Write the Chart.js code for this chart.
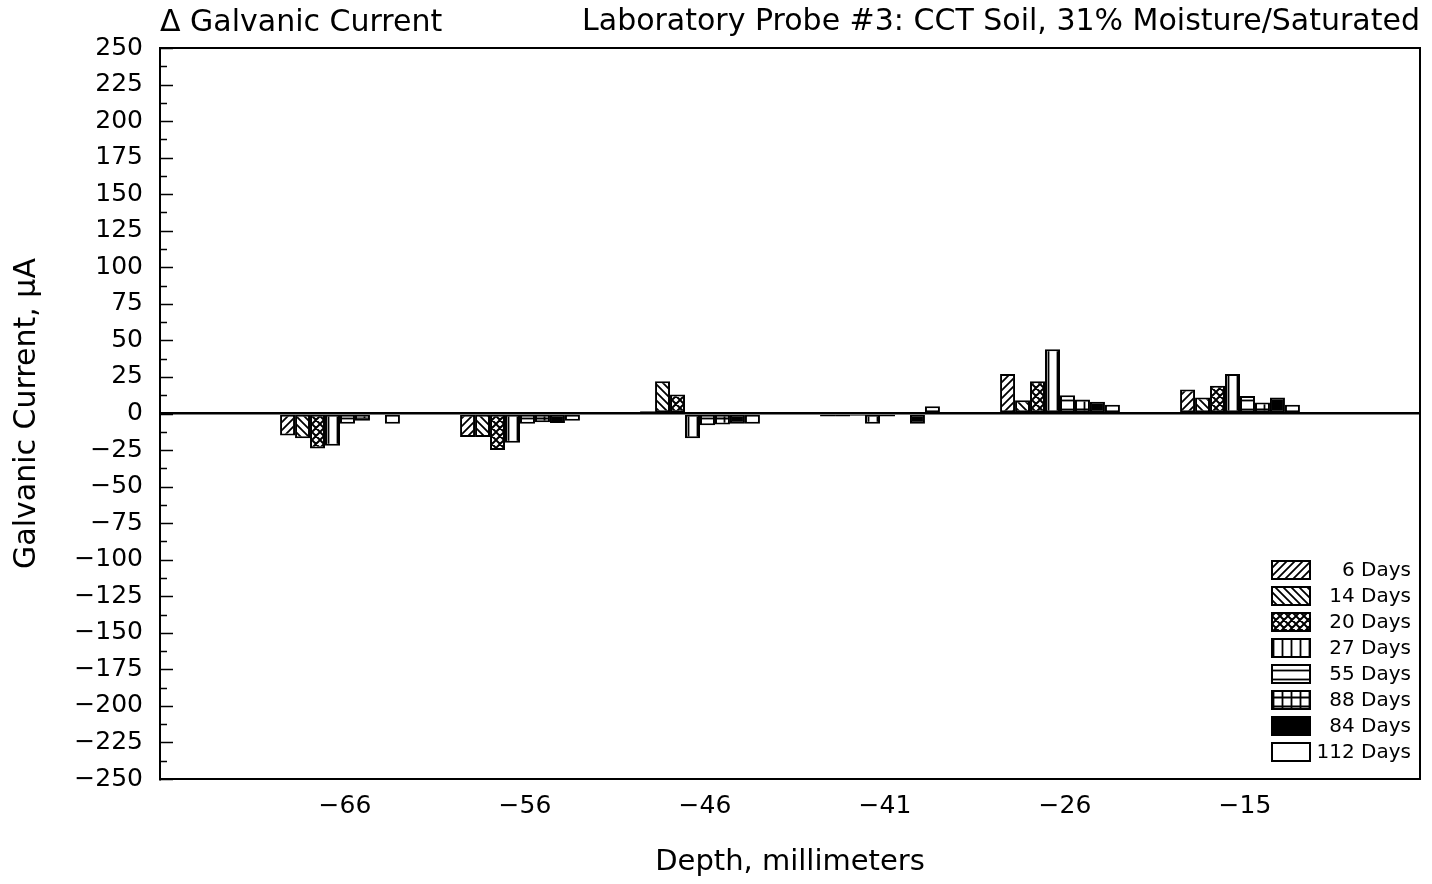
<!DOCTYPE html>
<html><head><meta charset="utf-8">
<script src="https://cdn.jsdelivr.net/npm/chart.js@4/dist/chart.umd.min.js"></script>
<style>html,body{margin:0;padding:0;background:#fff;} #wrap{width:1432px;height:884px;position:relative;}</style>
</head><body><div id="wrap"><canvas id="c"></canvas></div>
<script>
const categories = ['-66', '-56', '-46', '-41', '-26', '-15'];
const seriesNames = ['6 Days', '14 Days', '20 Days', '27 Days', '55 Days', '88 Days', '84 Days', '112 Days'];
const days6   = [-15, -16,  1.5, -2,   27,   16.5];
const days14  = [-17, -16,  22,  -2,    9,   11];
const days20  = [-24, -25,  13,  -1.5, 22,   19];
const days27  = [-22, -20, -17,  -7,   44,   27];
const days55  = [-7,  -7,  -8,   -2,   12.5, 12];
const days88  = [-5,  -6,  -7.5,  0.5,  9.5,  7.5];
const days84  = [-1,  -6.5, -7,  -7,    8,   11];
const days112 = [-7,  -5,  -7,    5,    6,    6];
const yMin = -250, yMax = 250, yStep = 25;
const titleLeft = '\u0394 Galvanic Current';
const titleRight = 'Laboratory Probe #3: CCT Soil, 31% Moisture/Saturated';
const xTitle = 'Depth, millimeters';
const yTitle = 'Galvanic Current, \u03BCA';

const FONT = "'DejaVu Sans', sans-serif";
const seriesValues = [days6, days14, days20, days27, days55, days88, days84, days112];
const patternKinds = ['diag', 'back', 'cross', 'vert', 'horiz', 'grid', 'solid', 'empty'];

function makePattern(kind) {
  if (kind === 'solid') return '#000';
  if (kind === 'empty') return '#fff';
  const s = (kind === 'diag' || kind === 'back' || kind === 'cross') ? 8 : 9;
  const c = document.createElement('canvas');
  c.width = s; c.height = s;
  const g = c.getContext('2d');
  g.fillStyle = '#fff'; g.fillRect(0, 0, s, s);
  g.strokeStyle = '#000'; g.lineWidth = 1.8;
  g.beginPath();
  const slash = () => { g.moveTo(-s, s * 2); g.lineTo(s * 2, -s); g.moveTo(-s, s); g.lineTo(s, -s); g.moveTo(0, s * 2); g.lineTo(s * 2, 0); };
  const back = () => { g.moveTo(-s, -s); g.lineTo(s * 2, s * 2); g.moveTo(-s, 0); g.lineTo(s, s * 2); g.moveTo(0, -s); g.lineTo(s * 2, s); };
  if (kind === 'diag') slash();
  if (kind === 'back') back();
  if (kind === 'cross') { g.lineWidth = 2; slash(); back(); }
  if (kind === 'vert' || kind === 'grid') { g.moveTo(s / 2, 0); g.lineTo(s / 2, s); }
  if (kind === 'horiz' || kind === 'grid') { g.moveTo(0, s / 2); g.lineTo(s, s / 2); }
  g.stroke();
  return document.getElementById('c').getContext('2d').createPattern(c, 'repeat');
}

const labels = ['', ...categories, ''];
const datasets = seriesNames.map((name, i) => ({
  label: name,
  data: [null, ...seriesValues[i], null],
  backgroundColor: makePattern(patternKinds[i]),
  borderColor: '#000',
  borderWidth: 2,
  borderSkipped: false
}));

const framePlugin = {
  id: 'frame',
  afterDraw(chart) {
    const {ctx, chartArea: a} = chart;
    const y = chart.scales.y;
    ctx.save();
    ctx.strokeStyle = '#000';
    ctx.lineWidth = 2;
    ctx.strokeRect(a.left, a.top, a.right - a.left, a.bottom - a.top);
    ctx.lineWidth = 1.5;
    ctx.beginPath();
    for (let v = yMin; v <= yMax + 0.001; v += yStep / 2) {
      const py = Math.round(y.getPixelForValue(v)) + 0.5;
      const major = Math.abs(v % yStep) < 0.001;
      ctx.moveTo(a.left, py);
      ctx.lineTo(a.left + (major ? 13 : 7), py);
    }
    ctx.stroke();
    ctx.fillStyle = '#000';
    ctx.font = '30px ' + FONT;
    ctx.textBaseline = 'middle';
    ctx.textAlign = 'left';
    ctx.fillText(titleLeft, a.left, 23);
    ctx.textAlign = 'right';
    ctx.fillText(titleRight, a.right, 22);
    const boxX = 1272, boxW = 38, boxH = 18, textR = 1411, y0 = 570, dy = 26;
    ctx.font = '20px ' + FONT;
    chart.data.datasets.forEach((ds, i) => {
      const cy = y0 + i * dy;
      ctx.fillStyle = ds.backgroundColor;
      ctx.fillRect(boxX, cy - boxH / 2, boxW, boxH);
      ctx.lineWidth = 2;
      ctx.strokeStyle = '#000';
      ctx.strokeRect(boxX, cy - boxH / 2, boxW, boxH);
      ctx.fillStyle = '#000';
      ctx.textAlign = 'right';
      ctx.fillText(ds.label, textR, cy + 1);
    });
    ctx.restore();
  }
};

new Chart(document.getElementById('c'), {
  type: 'bar',
  data: { labels, datasets },
  options: {
    responsive: true,
    maintainAspectRatio: false,
    animation: false,
    devicePixelRatio: 1,
    layout: { padding: { top: 48, right: 4, left: 0, bottom: 0 } },
    datasets: { bar: { categoryPercentage: 0.666, barPercentage: 1.0 } },
    plugins: { legend: { display: false }, tooltip: { enabled: false }, title: { display: false } },
    scales: {
      x: {
        type: 'category',
        offset: false,
        grid: { display: false, drawTicks: false },
        border: { display: true, color: '#000', width: 2 },
        ticks: { autoSkip: false, maxRotation: 0, padding: 12, labelOffset: 5, color: '#000',
                 font: { family: FONT, size: 25 },
                 callback: function (v) { const l = this.getLabelForValue(v); return l ? l.replace('-', '\u2212') : ''; } },
        title: { display: true, text: xTitle, color: '#000', font: { family: FONT, size: 29 }, padding: { top: 0, bottom: 4 } },
        afterFit: (s) => { s.height = 105; }
      },
      y: {
        min: yMin, max: yMax,
        grid: { drawTicks: false, lineWidth: 2.5,
                color: (c) => (c.tick && c.tick.value === 0) ? '#000' : 'rgba(0,0,0,0)' },
        border: { display: true, color: '#000', width: 2 },
        ticks: { stepSize: yStep, autoSkip: false, padding: 17, color: '#000',
                 font: { family: FONT, size: 25 },
                 callback: (v) => String(v).replace('-', '\u2212') },
        title: { display: true, text: yTitle, color: '#000', font: { family: FONT, size: 30 }, padding: { top: 9, bottom: 0 } },
        afterFit: (s) => { s.width = 160; }
      }
    }
  },
  plugins: [framePlugin]
});
</script>
</body></html>
